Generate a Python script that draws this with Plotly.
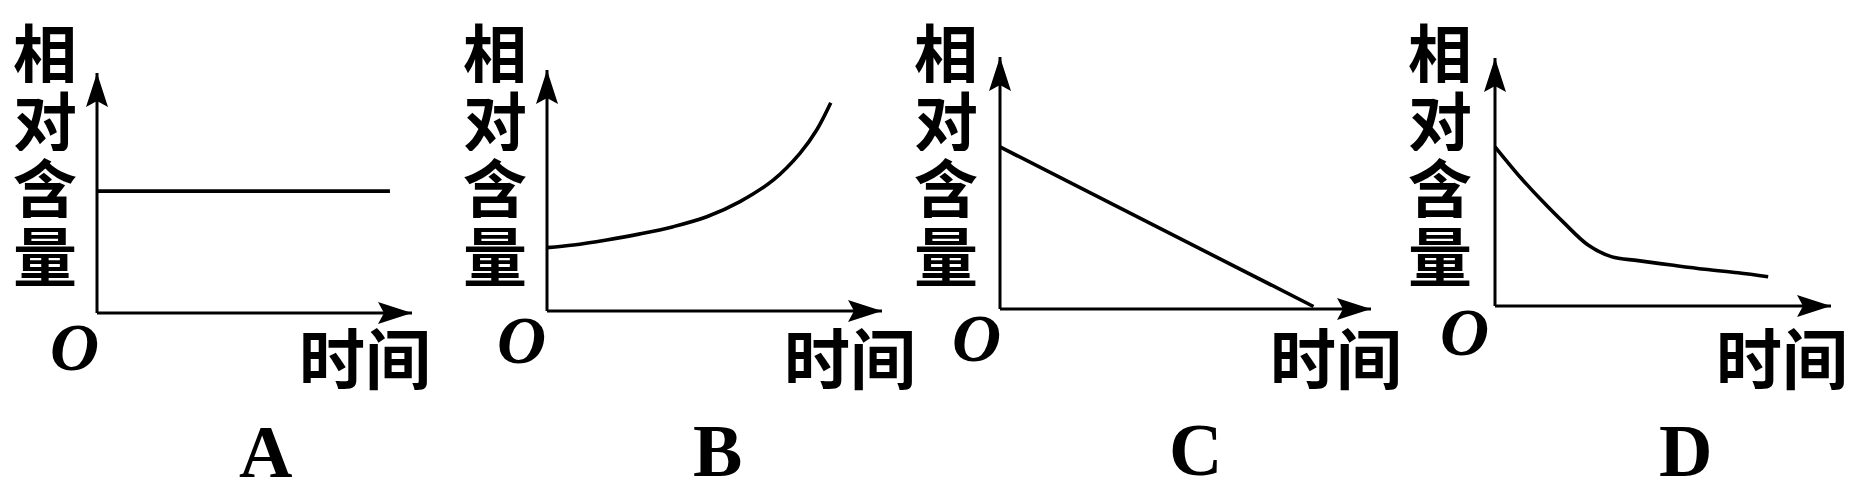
import plotly.graph_objects as go

W, H = 1856, 491

# ---- text ----
panel_letters = ["A", "B", "C", "D"]
y_label_chars = ["相", "对", "含", "量"]
x_label = "时间"
origin_label = "O"

# ---- data (relative units: x = time fraction, y = relative content) ----
a_x = [0.0, 0.93]
a_y = [0.508, 0.508]

b_x = [0.0, 0.079, 0.178, 0.278, 0.377, 0.477, 0.576, 0.676, 0.755, 0.805, 0.847]
b_y = [0.263, 0.274, 0.295, 0.320, 0.350, 0.391, 0.454, 0.544, 0.654, 0.751, 0.864]

c_x = [0.0, 0.845]
c_y = [0.643, 0.01]

d_x = [0.0, 0.078, 0.138, 0.207, 0.277, 0.346, 0.426, 0.525, 0.624, 0.723, 0.813]
d_y = [0.642, 0.515, 0.427, 0.333, 0.246, 0.199, 0.183, 0.165, 0.148, 0.134, 0.118]

series = [(a_x, a_y, "linear"), (b_x, b_y, "spline"),
          (c_x, c_y, "linear"), (d_x, d_y, "spline")]

# ---- layout geometry (pixels): origin x, origin y, x-arrow tip x, y-arrow tip y ----
geom = [(97, 313, 412, 73), (547, 311, 882, 70), (1000, 309, 1371, 57), (1495, 306, 1831, 58)]
ylab_x = [45, 495, 946, 1440]
ylab_y = [50, 118, 185, 253]
olab = [(74, 347), (521, 340), (976, 338), (1464, 332)]
xlab = [(365, 355), (850, 355), (1336, 355), (1782, 355)]
letter_pos = [(265, 452), (717, 451), (1195, 450), (1685, 451)]
PAD = 0.05

# arrow head outlines (pixels, relative to the tip)
HEAD_X = "M0,0L-34,-11L-28,0L-34,11Z"
HEAD_Y = "M0,0L-11,-34L0,-28L11,-34Z"

CJK = "Noto Sans CJK SC"
SERIF = "Liberation Serif"

fig = go.Figure()
annotations = []
shapes = []
layout_axes = {}

for i, ((ox, oy, tx, ty), (xs, ys, shape)) in enumerate(zip(geom, series)):
    n = "" if i == 0 else str(i + 1)
    xr = "x" + n
    yr = "y" + n
    dx = tx - ox
    dy = oy - ty
    xd = [(ox - PAD * dx) / W, (tx + PAD * dx) / W]
    yd = [1 - (oy + PAD * dy) / H, 1 - (ty - PAD * dy) / H]
    layout_axes["xaxis" + n] = dict(domain=xd, range=[-PAD, 1 + PAD], visible=False,
                                    anchor=yr, fixedrange=True)
    layout_axes["yaxis" + n] = dict(domain=yd, range=[-PAD, 1 + PAD], visible=False,
                                    anchor=xr, fixedrange=True)
    fig.add_trace(go.Scatter(x=xs, y=ys, mode="lines", xaxis=xr, yaxis=yr,
                             line=dict(color="black", width=3.6, shape=shape,
                                       smoothing=1.0),
                             hoverinfo="skip", showlegend=False))
    # axis lines
    shapes.append(dict(type="line", xref=xr, yref=yr, x0=0, y0=0, x1=1, y1=0,
                       line=dict(color="black", width=3)))
    shapes.append(dict(type="line", xref=xr, yref=yr, x0=0, y0=0, x1=0, y1=1,
                       line=dict(color="black", width=3)))
    # arrow heads
    shapes.append(dict(type="path", xref=xr, yref=yr, xsizemode="pixel",
                       ysizemode="pixel", xanchor=1, yanchor=0, path=HEAD_X,
                       fillcolor="black", line=dict(width=0)))
    shapes.append(dict(type="path", xref=xr, yref=yr, xsizemode="pixel",
                       ysizemode="pixel", xanchor=0, yanchor=1, path=HEAD_Y,
                       fillcolor="black", line=dict(width=0)))
    # y label characters
    for ch, cy in zip(y_label_chars, ylab_y):
        annotations.append(dict(x=ylab_x[i] / W, y=1 - cy / H, xref="paper", yref="paper",
                                text=ch, showarrow=False, xanchor="center",
                                yanchor="middle", height=66, borderpad=0,
                                font=dict(family=CJK, size=64, color="black",
                                          weight="bold")))
    # origin
    annotations.append(dict(x=olab[i][0] / W, y=1 - olab[i][1] / H, xref="paper",
                            yref="paper", text=origin_label, showarrow=False,
                            xanchor="center", yanchor="middle", height=60, borderpad=0,
                            font=dict(family=SERIF, size=68, color="black",
                                      weight="bold", style="italic")))
    # x label
    annotations.append(dict(x=xlab[i][0] / W, y=1 - xlab[i][1] / H, xref="paper",
                            yref="paper", text=x_label, showarrow=False,
                            xanchor="center", yanchor="middle", height=72, borderpad=0,
                            font=dict(family=CJK, size=66, color="black",
                                      weight="bold")))
    # panel letter
    annotations.append(dict(x=letter_pos[i][0] / W, y=1 - letter_pos[i][1] / H,
                            xref="paper", yref="paper", text=panel_letters[i],
                            showarrow=False, xanchor="center", yanchor="middle",
                            height=62, borderpad=0,
                            font=dict(family=SERIF, size=74, color="black",
                                      weight="bold")))

fig.update_layout(width=W, height=H, margin=dict(l=0, r=0, t=0, b=0),
                  paper_bgcolor="white", plot_bgcolor="white",
                  annotations=annotations, shapes=shapes, **layout_axes)

fig.write_html("out.html",
               config={"displayModeBar": False, "staticPlot": True},
               post_script="document.body.style.margin='0';"
                           "document.body.style.overflow='hidden';")
